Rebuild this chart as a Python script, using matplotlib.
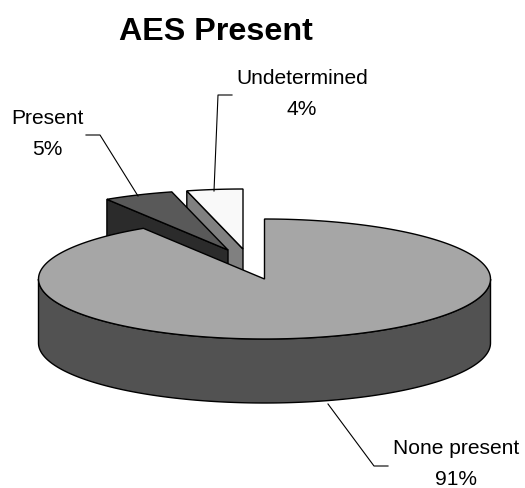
import numpy as np
from matplotlib import pyplot as plt
from matplotlib.patches import Polygon

plt.rcParams['font.family'] = ['Liberation Sans', 'DejaVu Sans']

categories = ["None present", "Present", "Undetermined"]
percents = [91, 5, 4]
top_colors = ["#a6a6a6", "#595959", "#f9f9f9"]
side_colors = ["#525252", "#2b2b2b", "#808080"]

cx, cy = 264.5, 280  # pie centre, pixels
rx, ry = 226, 60
depth = 64
# how far the two small slices are pulled out
explode = {"Present": (-36.5, -29), "Undetermined": (-21.5, -30)}


def ell(x0, y0, deg):
    a = np.radians(deg)
    return np.column_stack([x0 + rx * np.cos(a), y0 - ry * np.sin(a)])


fig = plt.figure(figsize=(5.25, 4.89), dpi=100)
ax = fig.add_axes([0, 0, 1, 1])
ax.set_xlim(0, 525)
ax.set_ylim(489, 0)
ax.axis("off")

# slice angles, clockwise from 12 o'clock
ends = 90 - np.cumsum(percents) * 3.6
starts = np.r_[90, ends[:-1]]


def add(pts, color, z):
    ax.add_patch(Polygon(pts, closed=True, fc=color, ec="black", lw=1.0, joinstyle="miter", zorder=z))


# small slices first, the big one covers their lower part
for i in (2, 1):
    dx, dy = explode[categories[i]]
    x0, y0 = cx + dx, cy + dy
    outer = ell(x0, y0, np.array([starts[i]]))[0]
    wall = [outer, (x0, y0), (x0, y0 + depth), (outer[0], outer[1] + depth)]
    add(wall, side_colors[i], 5 - i)
    arc = ell(x0, y0, np.linspace(starts[i], ends[i], 30))
    add(np.vstack([[(x0, y0)], arc]), top_colors[i], 5 - i + 0.5)

# big slice, rim then top
front = ell(cx, cy, np.linspace(180, 360, 200))
add(np.vstack([front, ell(cx, cy + depth, np.linspace(360, 180, 200))]), side_colors[0], 10)
arc = ell(cx, cy, np.linspace(starts[0], ends[0], 400))
add(np.vstack([[(cx, cy)], arc]), top_colors[0], 11)

# leader lines
ax.plot([138, 100, 86], [197, 136, 136], color="black", lw=0.8, zorder=12)
ax.plot([214, 218, 232], [192, 96, 96], color="black", lw=0.8, zorder=12)
ax.plot([328, 374, 388], [405, 467, 467], color="black", lw=0.8, zorder=12)

ax.text(216, 32, "AES Present", fontsize=23.2, fontweight="bold", ha="center", va="center")
fs = 15.1
ls = 1.75
ax.text(302, 94, f"{categories[2]}\n{percents[2]}%", fontsize=fs, ha="center", va="center", linespacing=ls)
ax.text(47.5, 134, f"{categories[1]}\n{percents[1]}%", fontsize=fs, ha="center", va="center", linespacing=ls)
ax.text(456.5, 464, f"{categories[0]}\n{percents[0]}%", fontsize=fs, ha="center", va="center", linespacing=ls)

fig.savefig("out.png", dpi=100)
